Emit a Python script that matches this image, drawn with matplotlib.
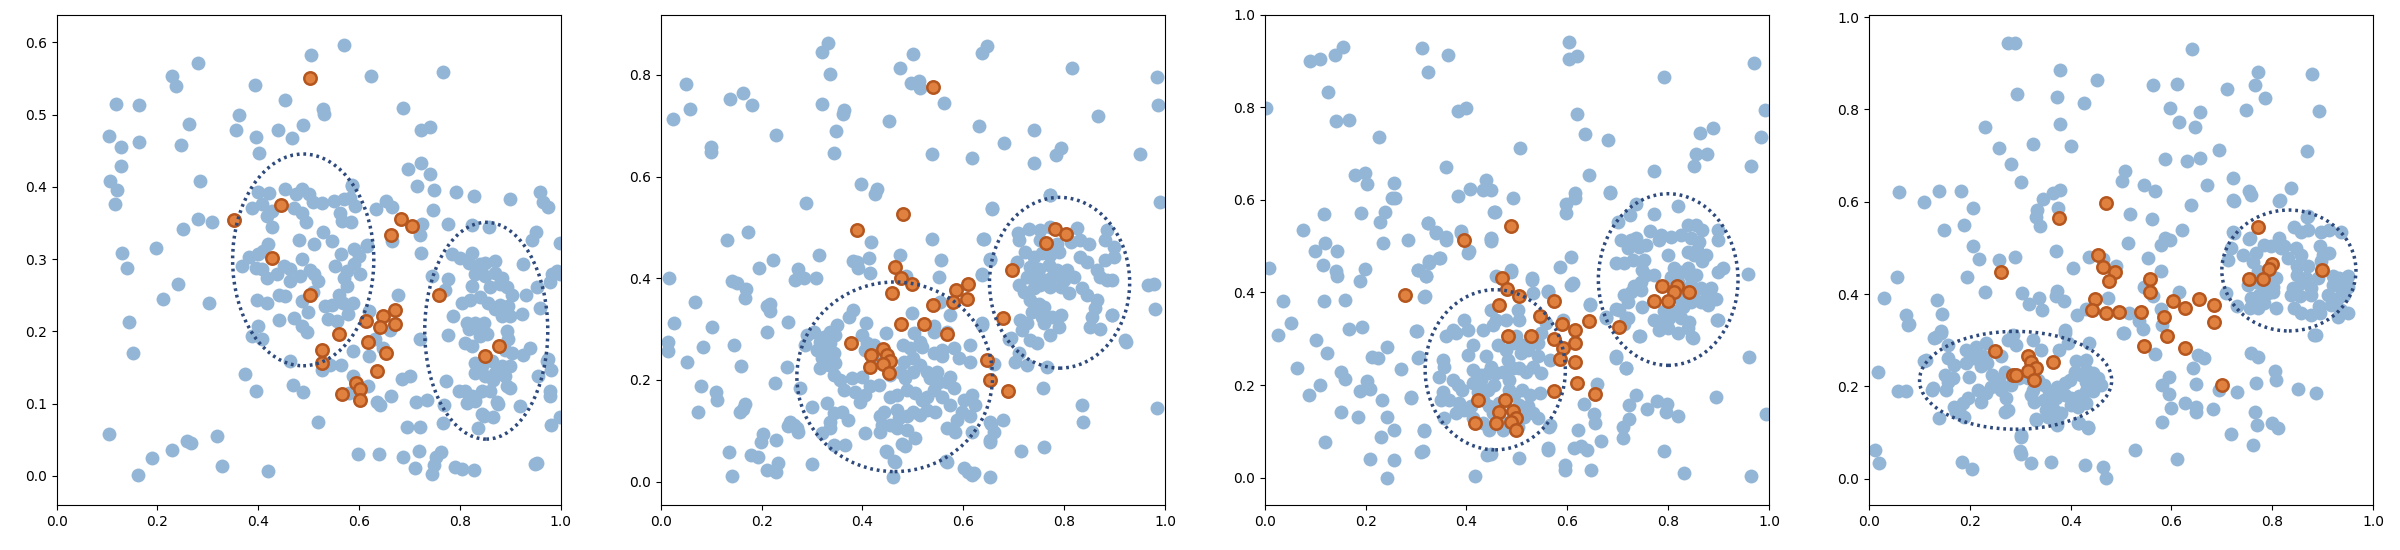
import numpy as np
import matplotlib
matplotlib.use('Agg')
import matplotlib.pyplot as plt
from matplotlib.patches import Ellipse

# ---- panel 1 ----
p1_blue = [(0.569,0.596),(0.505,0.583),(0.281,0.572),(0.766,0.559),(0.228,0.554),(0.623,0.553),(0.237,0.539),(0.393,0.541),(0.452,0.520),(0.118,0.514),(0.164,0.513),(0.528,0.508),(0.686,0.509),(0.531,0.501),(0.362,0.499),(0.263,0.487),(0.355,0.479),(0.489,0.485),(0.439,0.479),(0.723,0.479),(0.741,0.483),(0.466,0.468),(0.103,0.470),(0.396,0.469),(0.127,0.455),(0.247,0.458),(0.164,0.462),(0.401,0.447),(0.127,0.429),(0.723,0.433),(0.697,0.425),(0.741,0.418),(0.106,0.408),(0.284,0.408),(0.586,0.402),(0.714,0.401),(0.119,0.395),(0.748,0.395),(0.792,0.393),(0.958,0.393),(0.827,0.387),(0.116,0.376),(0.899,0.383),(0.964,0.379),(0.974,0.372),(0.747,0.368),(0.634,0.370),(0.654,0.380),(0.665,0.372),(0.281,0.355),(0.309,0.351),(0.250,0.342),(0.776,0.349),(0.725,0.348),(0.666,0.325),(0.721,0.333),(0.942,0.327),(0.951,0.337),(0.998,0.322),(0.197,0.316),(0.129,0.308),(0.722,0.309),(0.616,0.319),(0.140,0.288),(0.925,0.293),(0.998,0.280),(0.241,0.266),(0.677,0.251),(0.745,0.277),(0.776,0.272),(0.931,0.250),(0.210,0.245),(0.303,0.240),(0.952,0.262),(0.979,0.269),(0.959,0.233),(0.923,0.224),(0.787,0.221),(0.144,0.213),(0.721,0.189),(0.777,0.195),(0.152,0.170),(0.925,0.167),(0.939,0.177),(0.974,0.162),(0.980,0.147),(0.955,0.138),(0.978,0.117),(0.978,0.110),(0.918,0.097),(0.980,0.071),(0.998,0.081),(0.768,0.098),(0.766,0.074),(0.772,0.131),(0.712,0.102),(0.734,0.105),(0.701,0.139),(0.685,0.134),(0.695,0.068),(0.720,0.068),(0.718,0.035),(0.763,0.033),(0.753,0.026),(0.748,0.015),(0.744,0.003),(0.686,0.026),(0.711,0.011),(0.790,0.013),(0.804,0.010),(0.827,0.008),(0.949,0.016),(0.952,0.018),(0.639,0.031),(0.598,0.031),(0.419,0.007),(0.327,0.014),(0.318,0.056),(0.189,0.025),(0.228,0.036),(0.259,0.048),(0.266,0.046),(0.161,0.001),(0.103,0.058),(0.518,0.075),(0.374,0.141),(0.396,0.117),(0.469,0.126),(0.489,0.116),(0.462,0.159),(0.664,0.111),(0.641,0.098),(0.635,0.103),(0.618,0.125),(0.588,0.138),(0.579,0.115),(0.542,0.153),(0.564,0.153),(0.526,0.147),(0.588,0.173),(0.619,0.166),(0.647,0.177),(0.632,0.189),(0.661,0.202),(0.809,0.118),(0.830,0.109),(0.843,0.086),(0.866,0.081),(0.836,0.067),(0.874,0.103),(0.894,0.125),(0.865,0.133),
    (0.400,0.393),(0.421,0.392),(0.452,0.397),(0.387,0.371),(0.407,0.376),(0.417,0.360),(0.427,0.367),(0.475,0.390),(0.487,0.397),(0.501,0.390),(0.509,0.379),(0.527,0.378),(0.470,0.371),(0.486,0.364),(0.494,0.351),(0.551,0.381),(0.569,0.383),(0.585,0.401),(0.582,0.385),(0.592,0.374),(0.562,0.364),(0.565,0.353),(0.584,0.351),(0.428,0.344),(0.528,0.337),(0.481,0.327),(0.511,0.321),(0.546,0.325),(0.419,0.321),(0.410,0.311),(0.400,0.307),(0.382,0.303),(0.367,0.291),(0.395,0.288),(0.407,0.286),(0.417,0.274),(0.437,0.279),(0.450,0.290),(0.463,0.286),(0.463,0.270),(0.483,0.276),(0.487,0.300),(0.503,0.285),(0.511,0.279),(0.519,0.270),(0.552,0.290),(0.564,0.307),(0.589,0.314),(0.599,0.304),(0.589,0.293),(0.575,0.284),(0.569,0.274),(0.602,0.279),(0.615,0.318),(0.575,0.263),(0.559,0.251),(0.397,0.244),(0.417,0.239),(0.440,0.251),(0.453,0.249),(0.487,0.242),(0.509,0.254),(0.532,0.235),(0.546,0.237),(0.567,0.240),(0.587,0.240),(0.499,0.227),(0.440,0.216),(0.470,0.219),(0.487,0.207),(0.496,0.199),(0.539,0.217),(0.556,0.214),(0.577,0.224),(0.400,0.207),(0.388,0.194),(0.408,0.189),(0.620,0.228),
    (0.823,0.347),(0.858,0.344),(0.784,0.307),(0.800,0.302),(0.823,0.309),(0.817,0.295),(0.840,0.293),(0.850,0.295),(0.870,0.297),(0.771,0.258),(0.830,0.279),(0.850,0.277),(0.870,0.281),(0.883,0.274),(0.823,0.263),(0.860,0.261),(0.880,0.265),(0.893,0.261),(0.903,0.251),(0.804,0.240),(0.820,0.244),(0.840,0.247),(0.856,0.240),(0.880,0.237),(0.896,0.235),(0.870,0.231),(0.883,0.221),(0.899,0.221),(0.813,0.212),(0.830,0.212),(0.847,0.212),(0.817,0.203),(0.833,0.207),(0.810,0.184),(0.823,0.180),(0.840,0.194),(0.853,0.196),(0.893,0.200),(0.896,0.189),(0.890,0.175),(0.903,0.170),(0.972,0.159),(0.830,0.157),(0.843,0.152),(0.863,0.159),(0.883,0.152),(0.899,0.152),(0.830,0.143),(0.850,0.138),(0.870,0.143),(0.890,0.138),(0.899,0.122),(0.797,0.117),(0.823,0.110),(0.843,0.117),(0.860,0.117),(0.876,0.099),(0.813,0.101),(0.830,0.104),(0.847,0.083),(0.982,0.279),(0.992,0.284)]
p1_orange = [(0.503,0.551),(0.445,0.375),(0.352,0.354),(0.682,0.355),(0.705,0.346),(0.664,0.334),(0.427,0.302),(0.502,0.250),(0.758,0.250),(0.671,0.230),(0.647,0.221),(0.614,0.215),(0.671,0.210),(0.641,0.206),(0.559,0.197),(0.618,0.185),(0.877,0.180),(0.527,0.174),(0.653,0.170),(0.849,0.166),(0.526,0.157),(0.635,0.145),(0.594,0.129),(0.601,0.121),(0.566,0.114),(0.601,0.105)]
p1_ellipses = [(0.489,0.299,0.280,0.293),(0.852,0.201,0.244,0.300)]

# ---- panel 2 ----
p2_blue = [(0.332,0.862),(0.319,0.844),(0.647,0.856),(0.638,0.843),(0.500,0.841),(0.475,0.814),(0.815,0.814),(0.335,0.801),(0.984,0.795),(0.051,0.782),(0.496,0.783),(0.513,0.787),(0.514,0.775),(0.164,0.764),(0.137,0.753),(0.182,0.740),(0.319,0.743),(0.562,0.744),(0.986,0.740),(0.058,0.733),(0.025,0.714),(0.363,0.730),(0.361,0.723),(0.868,0.719),(0.453,0.710),(0.632,0.700),(0.348,0.690),(0.740,0.692),(0.229,0.682),(0.681,0.666),(0.793,0.656),(0.784,0.643),(0.100,0.659),(0.100,0.649),(0.344,0.646),(0.538,0.645),(0.617,0.637),(0.951,0.644),(0.740,0.627),(0.397,0.586),(0.428,0.575),(0.425,0.566),(0.772,0.564),(0.288,0.548),(0.656,0.539),(0.990,0.550),(0.173,0.490),(0.131,0.475),(0.417,0.471),(0.538,0.478),(0.640,0.478),(0.314,0.445),(0.223,0.435),(0.474,0.445),(0.413,0.439),(0.555,0.435),(0.381,0.434),(0.389,0.432),(0.392,0.421),(0.195,0.421),(0.272,0.419),(0.267,0.397),(0.415,0.410),(0.487,0.405),(0.307,0.400),(0.285,0.400),(0.551,0.403),(0.637,0.408),(0.016,0.401),(0.141,0.395),(0.151,0.391),(0.169,0.379),(0.167,0.361),(0.967,0.386),(0.979,0.388),(0.981,0.340),(0.068,0.353),(0.211,0.346),(0.217,0.349),(0.216,0.336),(0.026,0.311),(0.252,0.313),(0.101,0.303),(0.211,0.294),(0.921,0.278),(0.015,0.274),(0.015,0.257),(0.145,0.268),(0.083,0.265),(0.052,0.235),(0.160,0.227),(0.251,0.225),(0.227,0.193),(0.080,0.187),(0.110,0.177),(0.111,0.160),(0.759,0.184),(0.167,0.153),(0.163,0.143),(0.158,0.136),(0.074,0.136),(0.835,0.150),(0.837,0.118),(0.984,0.145),(0.252,0.110),(0.264,0.112),(0.273,0.097),(0.678,0.121),(0.655,0.113),(0.203,0.094),(0.198,0.077),(0.229,0.082),(0.653,0.081),(0.135,0.059),(0.714,0.061),(0.761,0.067),(0.180,0.052),(0.193,0.049),(0.232,0.037),(0.210,0.023),(0.229,0.018),(0.300,0.035),(0.141,0.010),(0.460,0.008),(0.610,0.019),(0.622,0.016),(0.653,0.008),(0.566,0.040),(0.478,0.074),(0.447,0.060),(0.462,0.040),(0.691,0.281),(0.653,0.438),(0.894,0.328),
    (0.382,0.337),(0.374,0.324),(0.407,0.311),(0.399,0.288),(0.422,0.269),(0.447,0.292),(0.405,0.259),(0.498,0.331),(0.503,0.292),(0.515,0.274),(0.480,0.269),(0.495,0.262),(0.541,0.305),(0.574,0.328),(0.558,0.259),(0.581,0.262),(0.591,0.242),(0.614,0.269),(0.614,0.236),(0.637,0.308),(0.303,0.295),(0.290,0.288),(0.286,0.269),(0.316,0.275),(0.326,0.262),(0.336,0.272),(0.343,0.252),(0.310,0.259),(0.320,0.242),(0.329,0.249),(0.346,0.233),(0.333,0.229),(0.316,0.223),(0.343,0.210),(0.356,0.200),(0.363,0.180),(0.379,0.203),(0.399,0.206),(0.386,0.177),(0.405,0.170),(0.396,0.157),(0.415,0.187),(0.432,0.190),(0.455,0.210),(0.475,0.216),(0.485,0.203),(0.501,0.216),(0.482,0.236),(0.501,0.242),(0.515,0.229),(0.528,0.216),(0.534,0.203),(0.548,0.216),(0.551,0.196),(0.567,0.196),(0.574,0.206),(0.581,0.183),(0.455,0.167),(0.468,0.170),(0.488,0.180),(0.505,0.174),(0.518,0.160),(0.528,0.167),(0.541,0.180),(0.558,0.167),(0.442,0.137),(0.468,0.141),(0.472,0.124),(0.488,0.128),(0.501,0.137),(0.515,0.131),(0.528,0.141),(0.544,0.137),(0.343,0.134),(0.359,0.137),(0.372,0.121),(0.336,0.118),(0.336,0.105),(0.320,0.095),(0.435,0.128),(0.439,0.111),(0.455,0.111),(0.468,0.105),(0.488,0.101),(0.505,0.085),(0.405,0.095),(0.366,0.072),(0.343,0.072),(0.435,0.098),(0.485,0.069),(0.567,0.105),(0.584,0.098),(0.601,0.160),(0.617,0.170),(0.624,0.151),(0.597,0.137),(0.614,0.128),(0.574,0.151),(0.587,0.121),(0.617,0.098),(0.567,0.039),(0.448,0.059),(0.465,0.039),(0.300,0.147),(0.329,0.154),(0.277,0.183),(0.270,0.105),(0.554,0.354),(0.541,0.295),(0.567,0.295),(0.518,0.265),(0.541,0.252),(0.558,0.246),(0.409,0.272),(0.422,0.249),(0.349,0.308),(0.336,0.295),(0.323,0.285),(0.346,0.288),(0.654,0.118),(0.660,0.098),(0.654,0.078),(0.601,0.026),(0.617,0.013),(0.257,0.118),
    (0.773,0.563),(0.657,0.537),(0.730,0.496),(0.708,0.488),(0.753,0.495),(0.773,0.501),(0.826,0.498),(0.710,0.475),(0.753,0.475),(0.786,0.468),(0.813,0.472),(0.832,0.475),(0.849,0.468),(0.885,0.495),(0.882,0.475),(0.899,0.462),(0.723,0.452),(0.740,0.442),(0.756,0.449),(0.773,0.445),(0.789,0.452),(0.832,0.442),(0.846,0.432),(0.882,0.436),(0.899,0.442),(0.707,0.432),(0.733,0.422),(0.750,0.419),(0.770,0.426),(0.786,0.416),(0.806,0.416),(0.866,0.416),(0.872,0.403),(0.885,0.396),(0.895,0.396),(0.727,0.403),(0.746,0.400),(0.763,0.396),(0.776,0.403),(0.799,0.396),(0.819,0.403),(0.710,0.386),(0.720,0.373),(0.740,0.380),(0.753,0.386),(0.773,0.383),(0.793,0.383),(0.809,0.370),(0.836,0.380),(0.846,0.367),(0.866,0.357),(0.862,0.341),(0.856,0.324),(0.733,0.357),(0.750,0.350),(0.760,0.344),(0.737,0.334),(0.756,0.324),(0.760,0.311),(0.776,0.324),(0.793,0.327),(0.789,0.304),(0.713,0.318),(0.727,0.311),(0.717,0.298),(0.773,0.288),(0.733,0.278),(0.746,0.272),(0.852,0.304),(0.872,0.301),(0.895,0.327),(0.694,0.282),(0.710,0.252),(0.703,0.236),(0.727,0.229),(0.766,0.226),(0.922,0.275),(0.642,0.478),(0.654,0.436),(0.637,0.406),(0.637,0.311),(0.660,0.232)]
p2_orange = [(0.540,0.777),(0.481,0.526),(0.389,0.495),(0.781,0.496),(0.804,0.486),(0.765,0.469),(0.464,0.422),(0.696,0.416),(0.476,0.400),(0.498,0.388),(0.609,0.388),(0.585,0.377),(0.459,0.371),(0.608,0.359),(0.579,0.354),(0.540,0.347),(0.678,0.321),(0.477,0.310),(0.522,0.310),(0.567,0.290),(0.377,0.272),(0.417,0.249),(0.441,0.260),(0.448,0.249),(0.455,0.237),(0.441,0.232),(0.415,0.226),(0.453,0.214),(0.648,0.240),(0.653,0.199),(0.688,0.178)]
p2_ellipses = [(0.464,0.206,0.388,0.373),(0.791,0.391,0.278,0.336)]

# ---- panel 3 ----
p3_blue = [(0.604,0.942),(0.603,0.904),(0.619,0.912),(0.311,0.929),(0.155,0.930),(0.139,0.914),(0.090,0.901),(0.109,0.904),(0.364,0.914),(0.323,0.876),(0.971,0.895),(0.791,0.866),(0.126,0.834),(0.002,0.798),(0.384,0.792),(0.400,0.798),(0.619,0.785),(0.142,0.770),(0.166,0.772),(0.992,0.795),(0.889,0.755),(0.864,0.745),(0.636,0.742),(0.227,0.736),(0.984,0.736),(0.680,0.730),(0.506,0.713),(0.855,0.700),(0.877,0.700),(0.359,0.672),(0.851,0.673),(0.964,0.673),(0.771,0.662),(0.178,0.653),(0.198,0.658),(0.203,0.634),(0.642,0.653),(0.257,0.636),(0.438,0.644),(0.448,0.621),(0.407,0.623),(0.433,0.621),(0.615,0.615),(0.615,0.605),(0.684,0.617),(0.253,0.604),(0.259,0.604),(0.383,0.608),(0.492,0.605),(0.598,0.591),(0.597,0.572),(0.238,0.573),(0.456,0.575),(0.117,0.570),(0.191,0.572),(0.229,0.553),(0.323,0.551),(0.075,0.534),(0.340,0.530),(0.359,0.519),(0.284,0.514),(0.448,0.517),(0.448,0.511),(0.389,0.532),(0.235,0.506),(0.120,0.506),(0.100,0.490),(0.143,0.490),(0.404,0.489),(0.326,0.467),(0.348,0.475),(0.115,0.459),(0.008,0.454),(0.198,0.451),(0.142,0.446),(0.143,0.436),(0.303,0.449),(0.320,0.436),(0.488,0.449),(0.586,0.455),(0.608,0.477),(0.188,0.425),(0.611,0.421),(0.530,0.431),(0.458,0.436),(0.318,0.393),(0.037,0.382),(0.117,0.382),(0.160,0.384),(0.561,0.404),(0.644,0.375),(0.958,0.440),(0.051,0.334),(0.027,0.309),(0.167,0.321),(0.192,0.325),(0.302,0.317),(0.101,0.297),(0.123,0.270),(0.242,0.282),(0.212,0.261),(0.225,0.258),(0.305,0.261),(0.064,0.236),(0.270,0.234),(0.697,0.262),(0.717,0.237),(0.961,0.261),(0.151,0.228),(0.159,0.214),(0.109,0.201),(0.203,0.209),(0.208,0.192),(0.188,0.188),(0.088,0.179),(0.232,0.168),(0.289,0.175),(0.659,0.202),(0.737,0.178),(0.723,0.156),(0.633,0.160),(0.652,0.137),(0.655,0.119),(0.758,0.149),(0.778,0.166),(0.798,0.158),(0.795,0.141),(0.820,0.134),(0.895,0.174),(0.152,0.141),(0.243,0.130),(0.185,0.130),(0.256,0.103),(0.230,0.088),(0.316,0.103),(0.120,0.077),(0.723,0.126),(0.711,0.110),(0.711,0.085),(0.667,0.079),(0.566,0.113),(0.562,0.064),(0.628,0.068),(0.638,0.060),(0.791,0.057),(0.314,0.057),(0.208,0.040),(0.256,0.037),(0.505,0.042),(0.441,0.048),(0.448,0.052),(0.596,0.028),(0.596,0.017),(0.647,0.016),(0.832,0.011),(0.417,0.004),(0.242,0.000),(0.964,0.004),(0.994,0.137),(0.897,0.341),(0.848,0.304),(0.744,0.306),(0.717,0.345),(0.697,0.364),(0.676,0.347),
    (0.488,0.445),(0.530,0.427),(0.449,0.362),(0.459,0.341),(0.478,0.341),(0.505,0.341),(0.396,0.341),(0.373,0.319),(0.359,0.305),(0.379,0.312),(0.402,0.319),(0.432,0.319),(0.452,0.330),(0.412,0.287),(0.402,0.265),(0.462,0.287),(0.478,0.276),(0.515,0.287),(0.508,0.269),(0.521,0.276),(0.541,0.290),(0.541,0.262),(0.531,0.240),(0.353,0.254),(0.356,0.240),(0.346,0.218),(0.482,0.254),(0.492,0.236),(0.472,0.229),(0.485,0.211),(0.412,0.233),(0.429,0.211),(0.442,0.226),(0.459,0.226),(0.373,0.211),(0.383,0.200),(0.392,0.190),(0.412,0.204),(0.422,0.186),(0.442,0.190),(0.455,0.200),(0.485,0.190),(0.495,0.179),(0.511,0.190),(0.525,0.179),(0.545,0.182),(0.548,0.226),(0.353,0.186),(0.349,0.168),(0.366,0.168),(0.386,0.161),(0.396,0.146),(0.409,0.154),(0.432,0.168),(0.445,0.154),(0.465,0.161),(0.452,0.139),(0.505,0.157),(0.521,0.154),(0.531,0.139),(0.541,0.128),(0.515,0.132),(0.379,0.139),(0.356,0.128),(0.412,0.128),(0.432,0.118),(0.445,0.103),(0.472,0.103),(0.478,0.118),(0.502,0.110),(0.564,0.110),(0.429,0.222),(0.449,0.240),(0.439,0.262),(0.498,0.305),(0.492,0.290),(0.505,0.236),(0.518,0.229),(0.565,0.255),(0.558,0.334),(0.548,0.312),(0.531,0.301),(0.531,0.399),(0.502,0.362),(0.591,0.341),(0.607,0.417),(0.561,0.402),(0.316,0.100),(0.310,0.056),(0.290,0.172),(0.303,0.258),(0.300,0.316),(0.359,0.514),(0.340,0.528),(0.323,0.550),(0.389,0.528),(0.402,0.485),(0.449,0.515),(0.455,0.575),(0.326,0.463),(0.346,0.474),(0.303,0.449),(0.320,0.435),(0.316,0.391),(0.561,0.060),(0.614,0.064),(0.621,0.103),
    (0.685,0.614),(0.736,0.591),(0.725,0.568),(0.772,0.569),(0.819,0.586),(0.700,0.553),(0.763,0.532),(0.786,0.524),(0.806,0.521),(0.825,0.524),(0.839,0.546),(0.855,0.546),(0.868,0.535),(0.898,0.535),(0.898,0.514),(0.706,0.514),(0.726,0.514),(0.736,0.517),(0.720,0.496),(0.743,0.499),(0.756,0.503),(0.782,0.514),(0.845,0.517),(0.862,0.510),(0.858,0.492),(0.839,0.488),(0.852,0.481),(0.875,0.481),(0.868,0.467),(0.799,0.481),(0.696,0.463),(0.713,0.463),(0.730,0.470),(0.753,0.470),(0.749,0.449),(0.756,0.438),(0.746,0.423),(0.772,0.438),(0.812,0.452),(0.825,0.445),(0.839,0.452),(0.855,0.438),(0.845,0.434),(0.806,0.434),(0.819,0.423),(0.898,0.445),(0.908,0.452),(0.733,0.413),(0.726,0.402),(0.746,0.405),(0.865,0.409),(0.885,0.409),(0.875,0.387),(0.845,0.416),(0.849,0.395),(0.713,0.395),(0.720,0.380),(0.749,0.369),(0.825,0.384),(0.829,0.369),(0.845,0.380),(0.865,0.380),(0.895,0.387),(0.878,0.373),(0.792,0.359),(0.815,0.359),(0.703,0.362),(0.720,0.344),(0.713,0.333),(0.772,0.341),(0.786,0.337),(0.802,0.344),(0.825,0.344),(0.842,0.337),(0.782,0.319),(0.799,0.323),(0.819,0.312),(0.839,0.323),(0.849,0.301),(0.898,0.341),(0.743,0.305),(0.677,0.344),(0.644,0.373),(0.696,0.258),(0.716,0.236)]
p3_orange = [(0.488,0.544),(0.395,0.513),(0.278,0.394),(0.470,0.431),(0.481,0.408),(0.504,0.393),(0.464,0.374),(0.573,0.381),(0.787,0.413),(0.817,0.413),(0.811,0.400),(0.841,0.400),(0.772,0.381),(0.799,0.381),(0.546,0.350),(0.642,0.339),(0.590,0.332),(0.702,0.325),(0.615,0.320),(0.483,0.307),(0.528,0.307),(0.573,0.300),(0.615,0.291),(0.591,0.281),(0.585,0.256),(0.615,0.249),(0.620,0.204),(0.573,0.187),(0.655,0.181),(0.423,0.168),(0.476,0.168),(0.492,0.143),(0.464,0.141),(0.498,0.128),(0.488,0.121),(0.417,0.117),(0.459,0.117),(0.498,0.103)]
p3_ellipses = [(0.457,0.233,0.278,0.346),(0.800,0.428,0.277,0.371)]

# ---- panel 4 ----
p4_blue = [(0.275,0.943),(0.290,0.945),(0.640,0.930),(0.379,0.886),(0.772,0.881),(0.878,0.877),(0.452,0.864),(0.564,0.853),(0.612,0.856),(0.710,0.844),(0.765,0.852),(0.293,0.834),(0.373,0.828),(0.786,0.824),(0.426,0.814),(0.597,0.803),(0.748,0.799),(0.657,0.794),(0.892,0.796),(0.379,0.769),(0.616,0.773),(0.230,0.762),(0.647,0.762),(0.325,0.726),(0.258,0.717),(0.400,0.720),(0.695,0.712),(0.868,0.711),(0.588,0.693),(0.630,0.689),(0.657,0.695),(0.282,0.682),(0.508,0.667),(0.501,0.646),(0.301,0.642),(0.546,0.636),(0.723,0.652),(0.671,0.636),(0.837,0.630),(0.060,0.622),(0.140,0.624),(0.183,0.624),(0.568,0.624),(0.365,0.619),(0.380,0.626),(0.754,0.623),(0.722,0.603),(0.814,0.602),(0.110,0.600),(0.345,0.605),(0.638,0.593),(0.207,0.586),(0.375,0.586),(0.333,0.582),(0.332,0.567),(0.340,0.548),(0.517,0.573),(0.562,0.563),(0.869,0.567),(0.148,0.539),(0.188,0.550),(0.621,0.539),(0.723,0.535),(0.753,0.520),(0.587,0.522),(0.597,0.516),(0.579,0.506),(0.514,0.511),(0.207,0.503),(0.371,0.493),(0.436,0.481),(0.219,0.476),(0.258,0.473),(0.290,0.481),(0.553,0.478),(0.405,0.457),(0.056,0.437),(0.194,0.437),(0.579,0.450),(0.546,0.416),(0.564,0.396),(0.616,0.404),(0.304,0.402),(0.231,0.404),(0.373,0.407),(0.372,0.395),(0.387,0.384),(0.337,0.392),(0.343,0.366),(0.317,0.378),(0.029,0.391),(0.135,0.388),(0.073,0.355),(0.079,0.335),(0.146,0.356),(0.474,0.392),(0.430,0.368),(0.412,0.354),(0.515,0.359),(0.536,0.342),(0.543,0.325),(0.579,0.367),(0.582,0.333),(0.506,0.316),(0.389,0.321),(0.882,0.311),(0.567,0.270),(0.653,0.268),(0.665,0.261),(0.757,0.272),(0.772,0.263),(0.642,0.240),(0.805,0.234),(0.807,0.213),(0.018,0.232),(0.595,0.221),(0.582,0.203),(0.595,0.183),(0.649,0.204),(0.768,0.207),(0.852,0.194),(0.887,0.185),(0.694,0.193),(0.731,0.188),(0.058,0.189),(0.626,0.163),(0.649,0.156),(0.649,0.145),(0.600,0.153),(0.682,0.150),(0.766,0.144),(0.770,0.116),(0.581,0.123),(0.799,0.121),(0.812,0.110),(0.719,0.096),(0.301,0.095),(0.435,0.112),(0.417,0.121),(0.527,0.062),(0.013,0.063),(0.020,0.033),(0.762,0.073),(0.612,0.043),(0.301,0.053),(0.300,0.060),(0.185,0.035),(0.204,0.020),(0.322,0.033),(0.362,0.036),(0.428,0.030),(0.464,0.025),(0.471,0.002),(0.332,0.130),(0.374,0.117),(0.140,0.131),(0.128,0.196),(0.113,0.258),(0.133,0.306),(0.144,0.320),(0.465,0.475),(0.490,0.460),
    (0.143,0.315),(0.130,0.304),(0.156,0.290),(0.192,0.279),(0.212,0.286),(0.232,0.293),(0.275,0.301),(0.292,0.290),(0.285,0.311),(0.325,0.301),(0.341,0.279),(0.378,0.279),(0.394,0.293),(0.388,0.315),(0.437,0.293),(0.411,0.254),(0.431,0.257),(0.156,0.261),(0.169,0.246),(0.192,0.250),(0.206,0.261),(0.222,0.243),(0.150,0.225),(0.156,0.210),(0.166,0.218),(0.153,0.192),(0.199,0.221),(0.245,0.225),(0.259,0.214),(0.269,0.232),(0.282,0.203),(0.298,0.218),(0.315,0.218),(0.216,0.192),(0.232,0.185),(0.242,0.199),(0.222,0.167),(0.262,0.192),(0.272,0.174),(0.196,0.174),(0.186,0.163),(0.179,0.149),(0.169,0.156),(0.189,0.134),(0.173,0.145),(0.269,0.145),(0.275,0.149),(0.321,0.181),(0.335,0.214),(0.348,0.203),(0.358,0.189),(0.348,0.171),(0.355,0.160),(0.374,0.199),(0.388,0.207),(0.398,0.214),(0.408,0.232),(0.421,0.225),(0.431,0.236),(0.444,0.228),(0.454,0.218),(0.460,0.203),(0.431,0.210),(0.447,0.199),(0.371,0.174),(0.388,0.181),(0.401,0.174),(0.417,0.178),(0.431,0.189),(0.444,0.189),(0.351,0.149),(0.368,0.149),(0.381,0.142),(0.401,0.160),(0.414,0.156),(0.431,0.163),(0.355,0.134),(0.374,0.124),(0.414,0.120),(0.434,0.109),(0.331,0.127),(0.302,0.091),(0.503,0.315),(0.126,0.192),(0.110,0.254),(0.073,0.189),(0.077,0.333),(0.226,0.265),(0.235,0.250),(0.262,0.265),(0.325,0.192),(0.328,0.167),(0.216,0.265),
    (0.724,0.602),(0.757,0.615),(0.815,0.604),(0.870,0.568),(0.844,0.546),(0.857,0.535),(0.870,0.539),(0.897,0.535),(0.913,0.539),(0.936,0.535),(0.725,0.532),(0.755,0.521),(0.814,0.521),(0.824,0.503),(0.798,0.503),(0.784,0.507),(0.768,0.489),(0.741,0.485),(0.718,0.499),(0.712,0.474),(0.761,0.470),(0.771,0.449),(0.768,0.427),(0.847,0.499),(0.857,0.485),(0.850,0.460),(0.870,0.460),(0.894,0.503),(0.900,0.485),(0.913,0.489),(0.897,0.471),(0.850,0.442),(0.857,0.424),(0.867,0.434),(0.841,0.413),(0.837,0.398),(0.854,0.395),(0.877,0.413),(0.877,0.398),(0.890,0.434),(0.920,0.438),(0.933,0.434),(0.950,0.438),(0.920,0.420),(0.936,0.416),(0.943,0.398),(0.930,0.391),(0.910,0.398),(0.950,0.416),(0.758,0.391),(0.774,0.398),(0.791,0.402),(0.801,0.405),(0.755,0.369),(0.771,0.369),(0.784,0.380),(0.808,0.369),(0.844,0.369),(0.857,0.358),(0.877,0.355),(0.893,0.373),(0.917,0.377),(0.936,0.366),(0.894,0.359),(0.930,0.351),(0.950,0.359),(0.887,0.311),(0.784,0.431),(0.794,0.442),(0.807,0.434),(0.801,0.416),(0.781,0.409),(0.751,0.420),(0.731,0.373),(0.708,0.402),(0.817,0.499),(0.831,0.478)]
p4_orange = [(0.471,0.597),(0.378,0.565),(0.772,0.546),(0.454,0.485),(0.262,0.447),(0.465,0.459),(0.489,0.447),(0.799,0.466),(0.793,0.454),(0.898,0.452),(0.557,0.433),(0.753,0.433),(0.782,0.433),(0.477,0.429),(0.557,0.404),(0.449,0.389),(0.655,0.389),(0.604,0.384),(0.627,0.370),(0.685,0.376),(0.442,0.365),(0.471,0.359),(0.496,0.361),(0.540,0.361),(0.585,0.351),(0.685,0.340),(0.591,0.308),(0.545,0.287),(0.626,0.283),(0.251,0.277),(0.315,0.265),(0.322,0.252),(0.366,0.252),(0.331,0.240),(0.285,0.225),(0.291,0.225),(0.315,0.234),(0.328,0.214),(0.701,0.203)]
p4_ellipses = [(0.291,0.213,0.381,0.212),(0.833,0.451,0.266,0.262)]

panels = [(p1_blue, p1_orange, p1_ellipses, (-0.04, 0.638)),
          (p2_blue, p2_orange, p2_ellipses, (-0.046, 0.918)),
          (p3_blue, p3_orange, p3_ellipses, (-0.059, 1.0)),
          (p4_blue, p4_orange, p4_ellipses, (-0.057, 1.005))]

fig, axes = plt.subplots(1, 4, figsize=(24, 5.5), dpi=100)
fig.subplots_adjust(left=0.0236, right=0.9888, bottom=0.082, top=0.973, wspace=0.198)

for ax, (blue, orange, ells, ylim) in zip(axes, panels):
    b = np.array(blue)
    o = np.array(orange)
    ax.scatter(b[:, 0], b[:, 1], s=100, color='#94b6d6', linewidths=0, zorder=2)
    ax.scatter(o[:, 0], o[:, 1], s=80, facecolor='#e0813f', edgecolor='#b5561f',
               linewidths=1.8, zorder=3)
    for cx, cy, w, h in ells:
        ax.add_patch(Ellipse((cx, cy), w, h, fill=False, edgecolor='#2e4a7d',
                             linewidth=2.5, linestyle=(0, (0.8, 1.1)), zorder=4))
    ax.set_xlim(0, 1)
    ax.set_ylim(*ylim)

fig.savefig('out.png', dpi=100)
